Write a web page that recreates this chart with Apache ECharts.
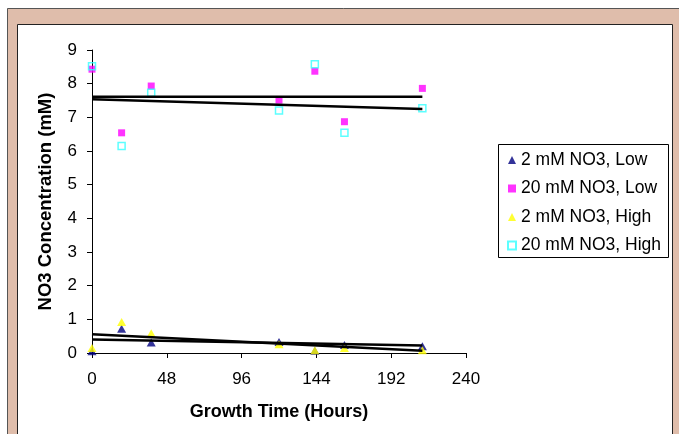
<!DOCTYPE html>
<html>
<head>
<meta charset="utf-8">
<script src="https://cdn.jsdelivr.net/npm/echarts@6/dist/echarts.min.js"></script>
<style>
  html, body { margin: 0; padding: 0; background: #fff; }
  #chart { width: 679px; height: 434px; }
</style>
</head>
<body>
<div id="chart"></div>
<script>
// growth time (hours) of each sample
var hours = [0, 19, 38, 120, 143, 162, 212];

// NO3 concentration (mM) per treatment
var low2 = [0.05, 0.72, 0.31, 0.33, 0.07, 0.24, 0.20];
var low20 = [8.43, 6.54, 7.93, 7.51, 8.37, 6.87, 7.86];
var high2 = [0.15, 0.92, 0.59, 0.26, 0.08, 0.15, 0.08];
var high20 = [8.52, 6.15, 7.73, 7.20, 8.58, 6.54, 7.27];

// linear trend lines, start and end values as drawn
var trendHours = [0, 212];
var trendLow2 = [0.40, 0.22];
var trendLow20 = [7.61, 7.61];
var trendHigh2 = [0.56, 0.07];
var trendHigh20 = [7.54, 7.25];

var seriesNames = ['2 mM NO3, Low', '20 mM NO3, Low', '2 mM NO3, High', '20 mM NO3, High'];
var xTicks = [0, 48, 96, 144, 192, 240];

function pairs(xs, ys) {
  var out = [];
  for (var i = 0; i < ys.length; i++) out.push([xs[i], ys[i]]);
  return out;
}

function trend(ys) {
  return {
    type: 'line',
    data: pairs(trendHours, ys),
    symbol: 'none',
    silent: true,
    z: 5,
    lineStyle: { color: '#000', width: 2.5 }
  };
}

var font = "'Liberation Sans', Arial, sans-serif";
var chart = echarts.init(document.getElementById('chart'));

var option = {
  animation: false,
  textStyle: { fontFamily: font },
  graphic: [
    // outer tan frame
    { type: 'rect', z: -10, silent: true,
      shape: { x: 7.5, y: 8.5, width: 700, height: 460 },
      style: { fill: '#DFBDAB', stroke: '#555', lineWidth: 1 } },
    // white chart area
    { type: 'rect', z: -9, silent: true,
      shape: { x: 17.5, y: 24.5, width: 655, height: 460 },
      style: { fill: '#fff', stroke: '#222', lineWidth: 1 } },
    // legend box
    { type: 'rect', z: -8, silent: true,
      shape: { x: 498.5, y: 144.5, width: 170, height: 113 },
      style: { fill: '#fff', stroke: '#000', lineWidth: 1 } }
  ],
  grid: { left: 92, top: 50, width: 374, height: 303 },
  legend: {
    orient: 'vertical',
    left: 507,
    top: 151,
    padding: 0,
    itemWidth: 8,
    itemHeight: 8,
    itemGap: 10.5,
    data: seriesNames,
    textStyle: { fontFamily: font, fontSize: 17.5, lineHeight: 17.5, color: '#000' }
  },
  xAxis: {
    type: 'value',
    min: 0,
    max: 240,
    interval: 48,
    name: 'Growth Time (Hours)',
    nameLocation: 'middle',
    nameGap: 50,
    nameTextStyle: { fontFamily: font, fontSize: 18, fontWeight: 'bold', color: '#000' },
    axisLine: { lineStyle: { color: '#000', width: 1 } },
    axisTick: { show: true, length: 5, lineStyle: { color: '#000' } },
    axisLabel: {
      margin: 18, fontSize: 17, color: '#000', fontFamily: font,
      formatter: function (v) { return xTicks.indexOf(v) >= 0 ? String(v) : ''; }
    },
    splitLine: { show: false }
  },
  yAxis: {
    type: 'value',
    min: 0,
    max: 9,
    interval: 1,
    name: 'NO3 Concentration (mM)',
    nameLocation: 'middle',
    nameGap: 37,
    nameTextStyle: { fontFamily: font, fontSize: 18.5, fontWeight: 'bold', color: '#000' },
    axisLine: { show: true, lineStyle: { color: '#000', width: 1 } },
    axisTick: { show: true, length: 5, lineStyle: { color: '#000' } },
    axisLabel: { margin: 15, fontSize: 17, color: '#000', fontFamily: font },
    splitLine: { show: false }
  },
  series: [
    {
      name: seriesNames[0], type: 'scatter', clip: false,
      symbol: 'triangle', symbolSize: [9, 8],
      itemStyle: { color: '#000080' },
      data: pairs(hours, low2)
    },
    {
      name: seriesNames[1], type: 'scatter', clip: false,
      symbol: 'rect', symbolSize: 7,
      itemStyle: { color: '#FF00FF' },
      data: pairs(hours, low20)
    },
    {
      name: seriesNames[2], type: 'scatter', clip: false,
      symbol: 'triangle', symbolSize: [9, 8],
      itemStyle: { color: '#FFFF00' },
      data: pairs(hours, high2)
    },
    {
      name: seriesNames[3], type: 'scatter', clip: false,
      symbol: 'rect', symbolSize: 7,
      itemStyle: { color: 'rgba(255,255,255,0)', borderColor: '#33FFFF', borderWidth: 1.5 },
      data: pairs(hours, high20)
    },
    trend(trendLow2),
    trend(trendLow20),
    trend(trendHigh2),
    trend(trendHigh20)
  ]
};

chart.setOption(option);
</script>
</body>
</html>
